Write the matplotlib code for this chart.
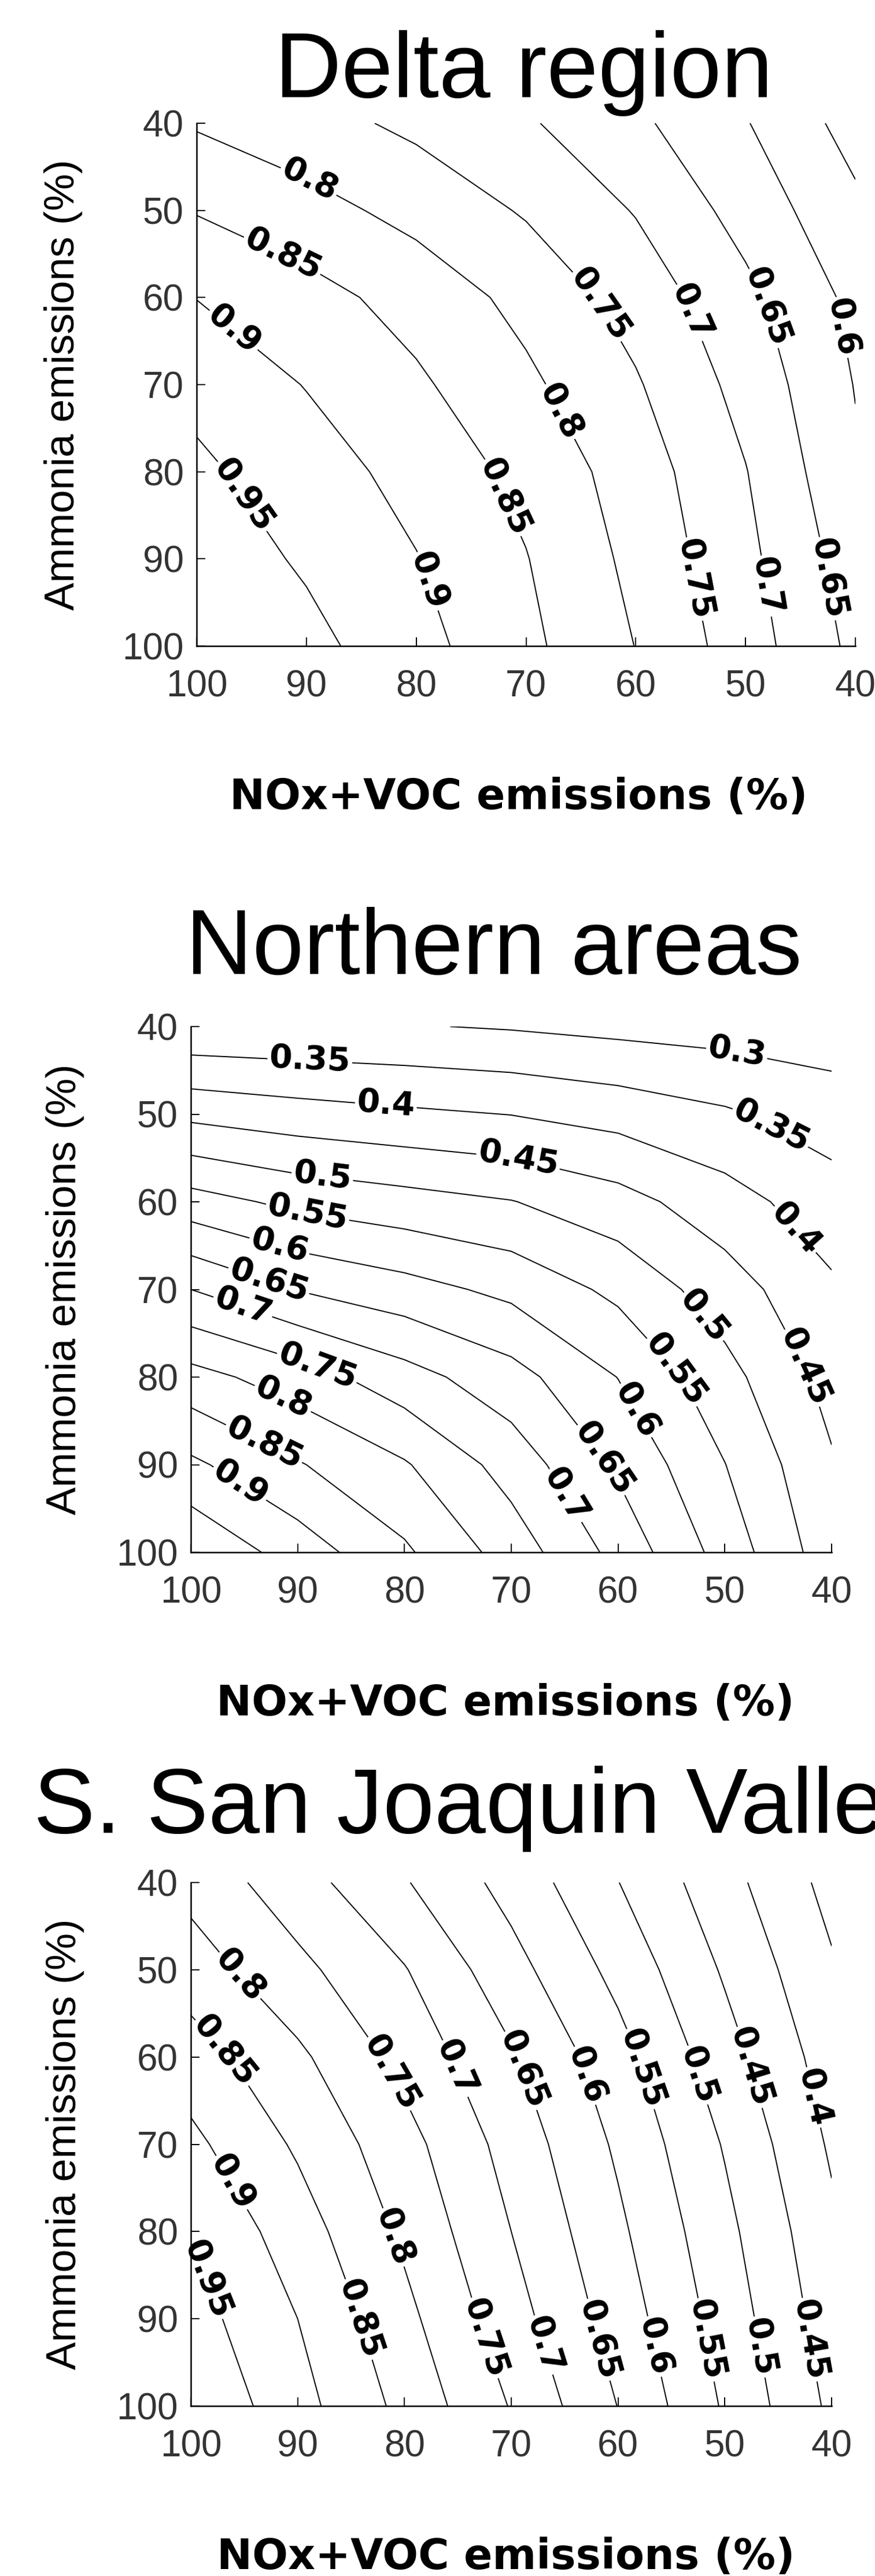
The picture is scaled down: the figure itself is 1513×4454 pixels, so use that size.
import numpy as np
import matplotlib
matplotlib.use("Agg")
import matplotlib.pyplot as plt

# ---------------- data ----------------
NOX = [100, 90, 80, 70, 60, 50, 40]          # x grid (NOx+VOC emissions, %)
NH3 = [40, 50, 60, 70, 80, 90, 100]          # y grid (Ammonia emissions, %)

# rows: NH3 = 40..100 ; columns: NOX = 100..40
DELTA = [
    [0.795, 0.768, 0.739, 0.706, 0.660, 0.603, 0.530],
    [0.847, 0.818, 0.784, 0.745, 0.697, 0.631, 0.561],
    [0.899, 0.868, 0.831, 0.785, 0.730, 0.663, 0.587],
    [0.935, 0.898, 0.858, 0.810, 0.755, 0.683, 0.598],
    [0.960, 0.923, 0.883, 0.836, 0.776, 0.702, 0.607],
    [0.980, 0.943, 0.902, 0.852, 0.787, 0.713, 0.625],
    [0.990, 0.965, 0.917, 0.862, 0.799, 0.724, 0.638],
]
NORTH = [
    [0.308, 0.306, 0.303, 0.296, 0.286, 0.279, 0.273],
    [0.4375, 0.421, 0.409, 0.399, 0.381, 0.357, 0.326],
    [0.571, 0.537, 0.519, 0.502, 0.469, 0.421, 0.372],
    [0.700, 0.648, 0.619, 0.587, 0.538, 0.474, 0.408],
    [0.818, 0.775, 0.720, 0.669, 0.599, 0.517, 0.433],
    [0.910, 0.854, 0.805, 0.729, 0.642, 0.551, 0.455],
    [0.995, 0.927, 0.858, 0.778, 0.684, 0.580, 0.471],
]
SSJV = [
    [0.783, 0.721, 0.654, 0.582, 0.501, 0.418, 0.334],
    [0.825, 0.763, 0.703, 0.618, 0.535, 0.444, 0.356],
    [0.873, 0.810, 0.734, 0.656, 0.569, 0.470, 0.376],
    [0.912, 0.843, 0.768, 0.681, 0.592, 0.496, 0.393],
    [0.948, 0.874, 0.790, 0.700, 0.610, 0.514, 0.411],
    [0.971, 0.900, 0.814, 0.721, 0.628, 0.529, 0.425],
    [0.995, 0.918, 0.836, 0.747, 0.649, 0.544, 0.440],
]

DELTA_LEVELS = [0.55, 0.6, 0.65, 0.7, 0.75, 0.8, 0.85, 0.9, 0.95]
NORTH_LEVELS = [0.3, 0.35, 0.4, 0.45, 0.5, 0.55, 0.6, 0.65, 0.7, 0.75, 0.8, 0.85, 0.9, 0.95]
SSJV_LEVELS = [0.35, 0.4, 0.45, 0.5, 0.55, 0.6, 0.65, 0.7, 0.75, 0.8, 0.85, 0.9, 0.95]

TITLES = ["Delta region", "Northern areas", "S. San Joaquin Valley"]
XLABEL = "NOx+VOC emissions (%)"
YLABEL = "Ammonia emissions (%)"
XTICKS = [100, 90, 80, 70, 60, 50, 40]
YTICKS = [40, 50, 60, 70, 80, 90, 100]

# ---------------- layout (pixels in a 1513 x 4454 canvas) ----------------
W, H, DPI = 1513, 4454, 100

DELTA_LABEL_POS = [(90.2, 47.6), (67.5, 73.5), (92.5, 56.0), (72.7, 83.3), (96.8, 64.0),
                   (79.5, 92.8), (96.4, 83.3), (63.8, 61.2), (55.0, 92.4), (54.8, 61.6),
                   (48.5, 93.2), (48.3, 61.2), (43.1, 92.4), (41.9, 63.6)]
NORTH_LABEL_POS = [(88.9, 44.9), (46.0, 52.1), (49.0, 43.7), (81.8, 49.9), (43.1, 62.8),
                   (69.5, 56.0), (42.9, 79.1), (87.7, 57.2), (52.5, 73.6), (89.1, 61.4),
                   (54.9, 79.5), (91.7, 65.0), (59.3, 84.5), (92.8, 69.4), (62.2, 90.1),
                   (95.3, 72.6), (65.7, 94.1), (88.3, 79.3), (91.7, 83.3), (93.6, 88.7),
                   (95.8, 92.9)]
SSJV_LABEL_POS = [(95.9, 51.2), (81.1, 80.7), (97.2, 59.7), (84.6, 90.2), (96.6, 74.7),
                  (98.7, 85.6), (81.4, 61.9), (72.7, 92.3), (75.2, 61.3), (67.2, 93.1),
                  (68.5, 61.3), (62.1, 92.5), (63.0, 62.1), (57.0, 93.3), (57.7, 61.3),
                  (52.1, 92.5), (52.6, 62.1), (47.0, 93.3), (48.0, 61.3), (42.5, 92.5),
                  (42.3, 64.8)]

PANELS = [
    dict(box=(340, 213, 1479, 1117), title_xy=(475, 168), xlabel_x=897, ylabel_x=110),
    dict(box=(330, 1775, 1438, 2684), title_xy=(321, 1684), xlabel_x=874, ylabel_x=113),
    dict(box=(330, 3255, 1438, 4160), title_xy=(58, 3169), xlabel_x=875, ylabel_x=113),
]

ARIAL = ["Liberation Sans", "DejaVu Sans"]

plt.rcParams["font.family"] = ["DejaVu Sans"]
fig = plt.figure(figsize=(W / DPI, H / DPI), dpi=DPI)
fig.patch.set_facecolor("white")

X, Y = np.meshgrid(NOX, NH3)
datasets = [(DELTA, DELTA_LEVELS, DELTA_LABEL_POS),
            (NORTH, NORTH_LEVELS, NORTH_LABEL_POS),
            (SSJV, SSJV_LEVELS, SSJV_LABEL_POS)]

for spec, title, (Z, levels, labpos) in zip(PANELS, TITLES, datasets):
    l, t, r, b = spec["box"]
    ax = fig.add_axes([l / W, 1 - b / H, (r - l) / W, (b - t) / H])
    cs = ax.contour(X, Y, np.array(Z), levels=levels, colors="black", linewidths=1.4)
    plt.rcParams["font.weight"] = "bold"
    labels = ax.clabel(cs, levels=levels, inline=True, inline_spacing=3, fontsize=41,
                       fmt=lambda v: f"{v:g}", manual=labpos, colors="black")
    plt.rcParams["font.weight"] = "normal"
    for txt in labels:
        txt.set_clip_on(False)

    ax.set_xlim(100, 40)
    ax.set_ylim(100, 40)
    ax.set_xticks(XTICKS)
    ax.set_yticks(YTICKS)
    ax.set_xticklabels([str(v) for v in XTICKS], family=ARIAL)
    ax.set_yticklabels([str(v) for v in YTICKS], family=ARIAL)
    for s in ("top", "right"):
        ax.spines[s].set_visible(False)
    for s in ("left", "bottom"):
        ax.spines[s].set_linewidth(1.8)
    ax.tick_params(axis="both", direction="in", length=11, width=1.4,
                   labelsize=46, labelcolor="#333333", top=False, right=False)
    ax.tick_params(axis="x", pad=29)
    ax.tick_params(axis="y", pad=16)

    tx, ty = spec["title_xy"]
    fig.text(tx / W, 1 - ty / H, title, ha="left", va="baseline",
             fontsize=115, family=ARIAL)
    fig.text(spec["xlabel_x"] / W, 1 - (b + 282) / H, XLABEL, ha="center",
             va="baseline", fontsize=52.5, fontweight="bold")
    fig.text(spec["ylabel_x"] / W, 1 - ((t + b) / 2) / H, YLABEL, rotation=90,
             ha="center", va="center", fontsize=52, family=ARIAL)

fig.savefig("out.png", dpi=DPI, facecolor="white")
